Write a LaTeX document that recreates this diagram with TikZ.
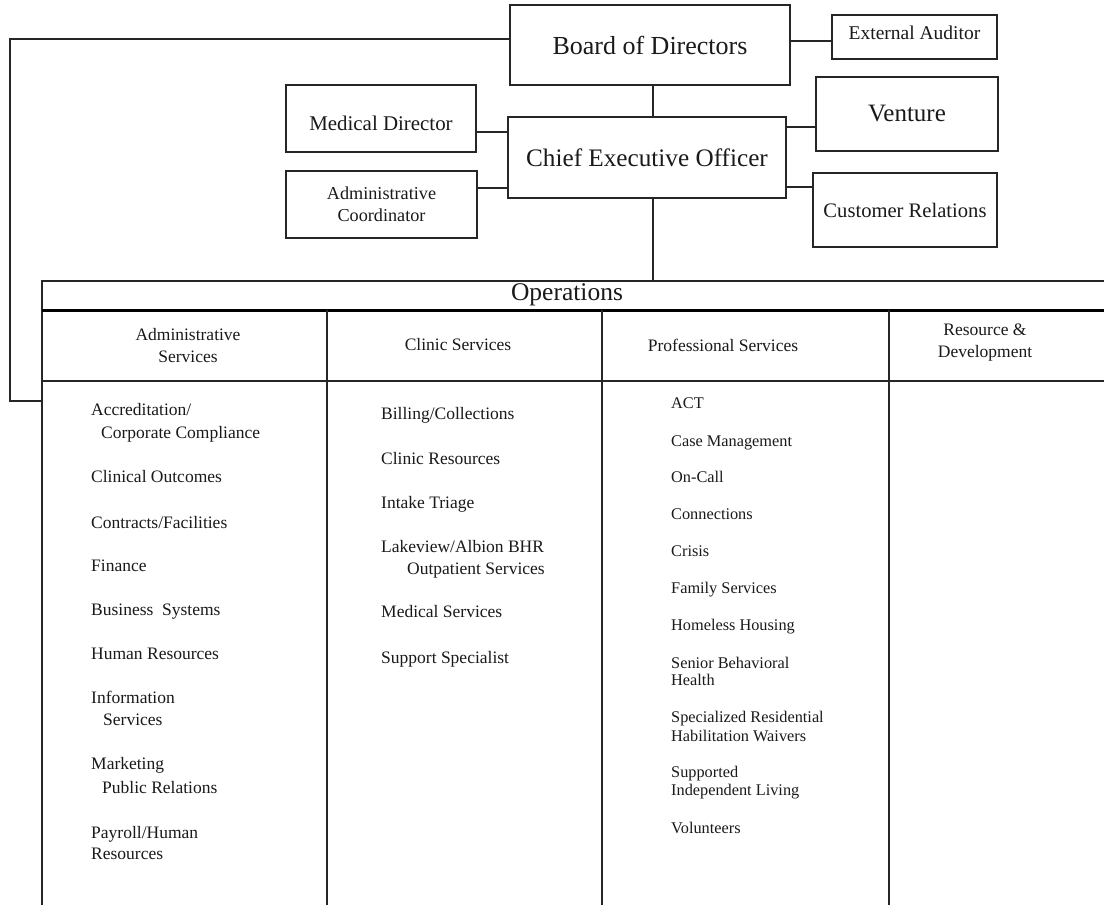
\documentclass[tikz,border=0pt]{standalone}
\usepackage{fontspec}
\setmainfont{Liberation Serif}
\definecolor{lc}{HTML}{262626}
\definecolor{tc}{HTML}{1A1A1A}
\tikzset{
  box/.style={draw=lc, line width=1.5pt, inner sep=0pt, outer sep=0pt, align=center, text=tc},
  ln/.style={draw=lc, line width=1.5pt},
  thick line/.style={draw=black, line width=3pt},
  itemA/.style={anchor=base west, inner sep=0pt, text=tc, font=\fontsize{17.5}{21}\selectfont},
  itemC/.style={anchor=base west, inner sep=0pt, text=tc, font=\fontsize{16.3}{19}\selectfont},
  head/.style={align=center, inner sep=0pt, text=tc, font=\fontsize{17.5}{22}\selectfont},
}
\begin{document}
\begin{tikzpicture}[x=1pt,y=-1pt]
\useasboundingbox[fill=white] (0,0) rectangle (1104,905);

% top boxes
\node[box, minimum width=280pt, minimum height=80pt, font=\fontsize{26}{29}\selectfont] (board) at (650,45) {Board of Directors};
\node[box, minimum width=165pt, minimum height=44pt, text height=10pt, text depth=5pt, font=\fontsize{19.5}{22}\selectfont] (ext) at (914.5,37) {External Auditor};
\node[box, minimum width=278pt, minimum height=81pt, font=\fontsize{25.2}{28}\selectfont] (ceo) at (647,157.5) {Chief Executive Officer};
\node[box, minimum width=190pt, minimum height=67pt, text height=24pt, text depth=0pt, font=\fontsize{20.9}{24}\selectfont] (med) at (381,118.5) {Medical Director};
\node[box, minimum width=191pt, minimum height=67pt, font=\fontsize{18.2}{22}\selectfont] (adm) at (381.5,204.5) {Administrative\\Coordinator};
\node[box, minimum width=182pt, minimum height=74pt, font=\fontsize{25}{28}\selectfont] (ven) at (907,114) {Venture};
\node[box, minimum width=184pt, minimum height=74pt, font=\fontsize{20.6}{24}\selectfont] (cust) at (905,210) {Customer Relations};

% connector coordinates
\coordinate (vx) at (653,0);
\coordinate (lt) at (10,39);
\coordinate (tabconn) at (42,401);
\coordinate (opstop) at (653,281);

\draw[ln] (vx |- board.south) -- (vx |- ceo.north);
\draw[ln] (vx |- ceo.south) -- (opstop);
\draw[ln] (board.west |- lt) -- (lt) -- (lt |- tabconn) -- (tabconn);
\draw[ln] (board.east |- 0,41) -- (ext.west |- 0,41);
\draw[ln] (med.east |- 0,132) -- (ceo.west |- 0,132);
\draw[ln] (adm.east |- 0,188) -- (ceo.west |- 0,188);
\draw[ln] (ceo.east |- 0,127) -- (ven.west |- 0,127);
\draw[ln] (ceo.east |- 0,187) -- (cust.west |- 0,187);

% operations table
\draw[ln] (42,905) -- (42,281) -- (1104,281);
\draw[thick line] (42,310) -- (1104,310);
\draw[ln] (42,381) -- (1104,381);
\draw[ln] (327,310) -- (327,905);
\draw[ln] (602,310) -- (602,905);
\draw[ln] (889,310) -- (889,905);

\node[inner sep=0pt, text=tc, font=\fontsize{25.5}{28}\selectfont] (ops) at (567,295) {Operations};
\node[head] (h1) at (188,346) {Administrative\\Services};
\node[head] (h2) at (458,345) {Clinic Services};
\node[head] (h3) at (723,345) {Professional Services};
\node[head] (h4) at (985,343) {Resource \&\\Development};

% column 1
\node[itemA] (a1) at (91,415) {Accreditation/};
\node[itemA] (a1b) at (101,438) {Corporate Compliance};
\node[itemA] (a2) at (91,482) {Clinical Outcomes};
\node[itemA] (a3) at (91,528) {Contracts/Facilities};
\node[itemA] (a4) at (91,571) {Finance};
\node[itemA] (a5) at (91,615) {Business\ \ Systems};
\node[itemA] (a6) at (91,659) {Human Resources};
\node[itemA] (a7) at (91,703) {Information};
\node[itemA] (a7b) at (103,725) {Services};
\node[itemA] (a8) at (91,769) {Marketing};
\node[itemA] (a8b) at (102,793) {Public Relations};
\node[itemA] (a9) at (91,838) {Payroll/Human};
\node[itemA] (a9b) at (91,859) {Resources};

% column 2
\node[itemA] (b1) at (381,419) {Billing/Collections};
\node[itemA] (b2) at (381,464) {Clinic Resources};
\node[itemA] (b3) at (381,508) {Intake Triage};
\node[itemA] (b4) at (381,552) {Lakeview/Albion BHR};
\node[itemA] (b4b) at (407,574) {Outpatient Services};
\node[itemA] (b5) at (381,617) {Medical Services};
\node[itemA] (b6) at (381,663) {Support Specialist};

% column 3
\node[itemC] (c1) at (671,408.5) {ACT};
\node[itemC] (c2) at (671,446.5) {Case Management};
\node[itemC] (c3) at (671,482.5) {On-Call};
\node[itemC] (c4) at (671,519.5) {Connections};
\node[itemC] (c5) at (671,556.5) {Crisis};
\node[itemC] (c6) at (671,593.5) {Family Services};
\node[itemC] (c7) at (671,630.5) {Homeless Housing};
\node[itemC] (c8) at (671,668.5) {Senior Behavioral};
\node[itemC] (c8b) at (671,685.5) {Health};
\node[itemC] (c9) at (671,722.5) {Specialized Residential};
\node[itemC] (c9b) at (671,741.5) {Habilitation Waivers};
\node[itemC] (c10) at (671,777.5) {Supported};
\node[itemC] (c10b) at (671,795.5) {Independent Living};
\node[itemC] (c11) at (671,833.5) {Volunteers};
\end{tikzpicture}
\end{document}
